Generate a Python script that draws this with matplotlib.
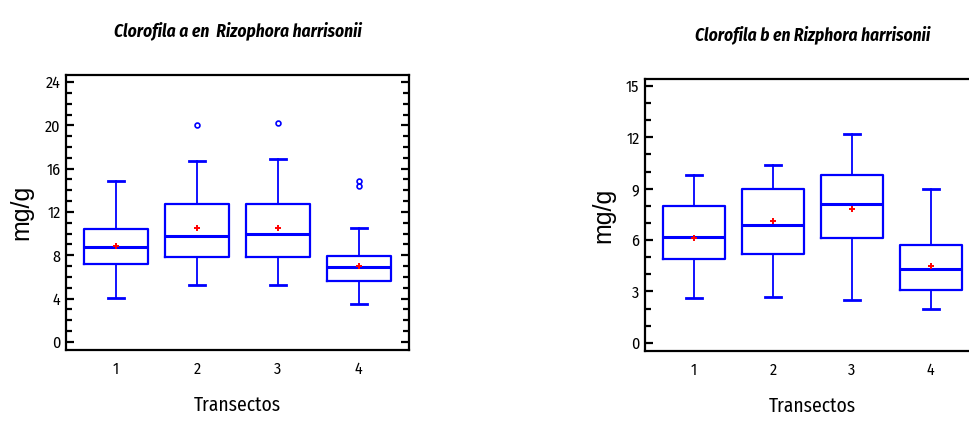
import matplotlib

matplotlib.use("Agg")

from matplotlib import pyplot as plt  # noqa: E402
from matplotlib.ticker import MultipleLocator  # noqa: E402

NARROW = ["Liberation Sans Narrow", "Fira Sans Condensed", "DejaVu Sans"]
BLUE = "#0000ff"

transectos = ["1", "2", "3", "4"]

# chlorophyll a (mg/g) per transect
clor_a_whislo = [4.1, 5.3, 5.3, 3.5]
clor_a_q1 = [7.2, 7.8, 7.8, 5.6]
clor_a_med = [8.8, 9.8, 10.0, 6.9]
clor_a_mean = [8.9, 10.5, 10.5, 7.0]
clor_a_q3 = [10.4, 12.7, 12.7, 7.9]
clor_a_whishi = [14.9, 16.7, 16.9, 10.5]
clor_a_fliers = [[], [20.0], [20.2], [14.4, 14.9]]

# chlorophyll b (mg/g) per transect
clor_b_whislo = [2.6, 2.7, 2.5, 2.0]
clor_b_q1 = [4.9, 5.2, 6.1, 3.1]
clor_b_med = [6.2, 6.9, 8.1, 4.3]
clor_b_mean = [6.1, 7.1, 7.8, 4.5]
clor_b_q3 = [8.0, 9.0, 9.8, 5.7]
clor_b_whishi = [9.8, 10.4, 12.2, 9.0]
clor_b_fliers = [[], [], [], []]


def _stats(whislo, q1, med, mean, q3, whishi, fliers):
    return [
        {
            "label": lab,
            "whislo": a,
            "q1": b,
            "med": c,
            "mean": d,
            "q3": e,
            "whishi": f,
            "fliers": g,
        }
        for lab, a, b, c, d, e, f, g in zip(transectos, whislo, q1, med, mean, q3, whishi, fliers)
    ]


def draw_box(ax, stats, title, ylim, major, right_ticks=True):
    ax.bxp(
        stats,
        positions=range(1, len(stats) + 1),
        widths=0.79,
        showmeans=True,
        boxprops={"color": BLUE, "linewidth": 1.6},
        whiskerprops={"color": BLUE, "linewidth": 1.3},
        capprops={"color": BLUE, "linewidth": 2.0},
        medianprops={"color": BLUE, "linewidth": 2.2},
        meanprops={"marker": "+", "markeredgecolor": "red", "markersize": 4, "markeredgewidth": 1.4},
        flierprops={"marker": "o", "markerfacecolor": "none", "markeredgecolor": BLUE,
                    "markersize": 3.5, "markeredgewidth": 1.2},
        capwidths=0.2,
    )
    ax.set_xlim(0.38, 4.62)
    ax.set_ylim(*ylim)
    ax.yaxis.set_major_locator(MultipleLocator(major))
    ax.yaxis.set_minor_locator(MultipleLocator(1))
    ax.tick_params(axis="y", which="major", direction="in", length=6, width=1.6,
                   left=True, right=right_ticks, labelsize=11.5, pad=4)
    ax.tick_params(axis="y", which="minor", direction="in", length=4, width=1.6,
                   left=True, right=right_ticks)
    ax.tick_params(axis="x", length=0, labelsize=11.5, pad=8)
    for lab in ax.get_xticklabels() + ax.get_yticklabels():
        lab.set_family(NARROW)
    for spine in ax.spines.values():
        spine.set_linewidth(1.6)
    ax.set_xlabel("Transectos", family=NARROW, fontsize=14, labelpad=13)
    ax.set_ylabel("mg/g", family=["Liberation Sans", "DejaVu Sans"], fontsize=18, labelpad=8)
    ax.set_title(title, family=NARROW, fontsize=12.5, fontweight="bold", style="italic", pad=28)


fig = plt.figure(figsize=(9.7, 4.21), dpi=100)
ax_a = fig.add_axes([0.068, 0.1686, 0.3536, 0.6533])
ax_b = fig.add_axes([0.665, 0.1663, 0.345, 0.646])

draw_box(ax_a, _stats(clor_a_whislo, clor_a_q1, clor_a_med, clor_a_mean, clor_a_q3,
                      clor_a_whishi, clor_a_fliers),
         "Clorofila a en  Rizophora harrisonii", (-0.75, 24.65), 4)
draw_box(ax_b, _stats(clor_b_whislo, clor_b_q1, clor_b_med, clor_b_mean, clor_b_q3,
                      clor_b_whishi, clor_b_fliers),
         "Clorofila b en Rizphora harrisonii", (-0.48, 15.4), 3, right_ticks=False)

fig.savefig("out.png", dpi=100)
